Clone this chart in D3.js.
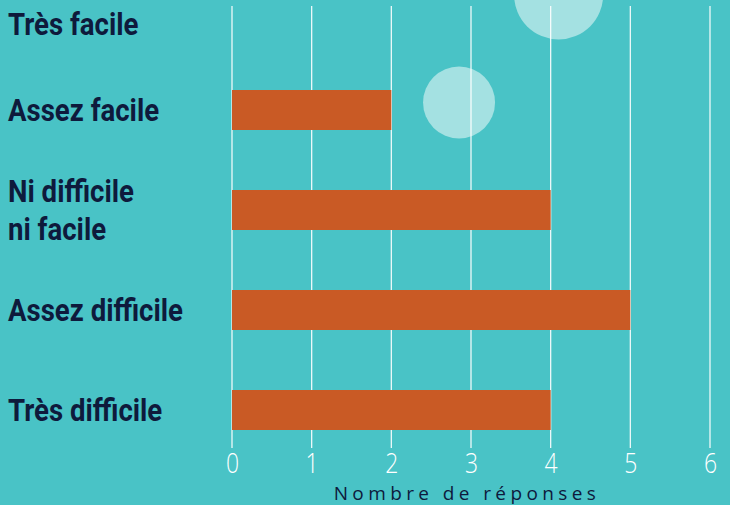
<!DOCTYPE html>
<html>
<head>
<meta charset="utf-8">
<script src="https://cdn.jsdelivr.net/npm/d3@7"></script>
<style>
  html, body { margin: 0; padding: 0; background: #49C3C6; }
</style>
</head>
<body>
<div id="chart"></div>
<script>
const categories = ["Très facile", "Assez facile", "Ni difficile\nni facile", "Assez difficile", "Très difficile"]
const values = [0, 2, 4, 5, 4]
const tickValues = [0, 1, 2, 3, 4, 5, 6]
const axisTitle = "Nombre de réponses"

const width = 730
const height = 505
const margin = { top: 6, left: 232, right: 20 }

const svg = d3.select("#chart")
  .append("svg")
  .attr("width", width)
  .attr("height", height)

svg.append("rect")
  .attr("width", width)
  .attr("height", height)
  .attr("fill", "#49C3C6")

// Escalas
const x = d3.scaleLinear().domain([0, 6]).range([margin.left, 710])
const y = d3.scaleBand().domain(categories).range([-40, 460])
  .paddingInner(0.6).paddingOuter(0.3)

// decorative bubbles
const bubbleGroup = svg.append("g").attr("id", "bubbles")
bubbleGroup.append("circle")
  .attr("cx", x(4.1)).attr("cy", -5).attr("r", 44.5)
  .attr("fill", "#A4E1E2")
bubbleGroup.append("circle")
  .attr("cx", x(2.85)).attr("cy", 102.5).attr("r", 36)
  .attr("fill", "#A4E1E2")

// gridlines
const gridGroup = svg.append("g").attr("id", "grid")
gridGroup.selectAll("line")
  .data(tickValues)
  .enter()
  .append("line")
  .attr("x1", d => x(d)).attr("x2", d => x(d))
  .attr("y1", margin.top).attr("y2", 448)
  .attr("stroke", "#ffffff")
  .attr("stroke-opacity", 0.9)
  .attr("stroke-width", 1.3)

// bars
const elementGroup = svg.append("g").attr("id", "elementGroup")
elementGroup.selectAll("rect")
  .data(values)
  .enter()
  .append("rect")
  .attr("x", x(0))
  .attr("y", (d, i) => y(categories[i]))
  .attr("height", y.bandwidth())
  .attr("width", d => x(d) - x(0))
  .attr("fill", "#C95A25")

// category labels (narrow bold look: Roboto squeezed horizontally)
const labelGroup = svg.append("g").attr("id", "labels")
categories.forEach(c => {
  const lines = c.split("\n")
  const cy = Math.max(y(c) + y.bandwidth() / 2, 24)
  const lh = 38
  const t = labelGroup.append("text")
    .attr("transform", `translate(8, ${cy}) scale(0.89, 1)`)
    .attr("font-family", "Roboto, sans-serif")
    .attr("font-weight", "bold")
    .attr("font-size", 31)
    .attr("fill", "#0E1A3C")
  lines.forEach((l, j) => {
    t.append("tspan")
      .attr("x", 0)
      .attr("y", (j - (lines.length - 1) / 2) * lh)
      .attr("dy", "0.36em")
      .text(l)
  })
})

// x axis tick labels
const xAxis = d3.axisBottom(x).tickValues(tickValues).tickFormat(d3.format("d"))
  .tickSize(0).tickPadding(0)
const xAxisGroup = svg.append("g")
  .attr("id", "xAxisGroup")
  .attr("transform", "translate(0, 452)")
  .call(xAxis)
xAxisGroup.select(".domain").remove()
xAxisGroup.selectAll("text")
  .attr("dy", "0.75em")
  .attr("transform", "scale(0.82, 1)")
  .attr("font-family", "'Open Sans', sans-serif")
  .attr("font-weight", 300)
  .attr("font-size", 28)
  .attr("fill", "#ffffff")

svg.append("text")
  .attr("x", (x(0) + x(6)) / 2 - 4)
  .attr("y", 500)
  .attr("text-anchor", "middle")
  .attr("font-family", "'Open Sans', sans-serif")
  .attr("font-size", 19)
  .attr("letter-spacing", 4.4)
  .attr("fill", "#0E1A3C")
  .text(axisTitle)
</script>
</body>
</html>
